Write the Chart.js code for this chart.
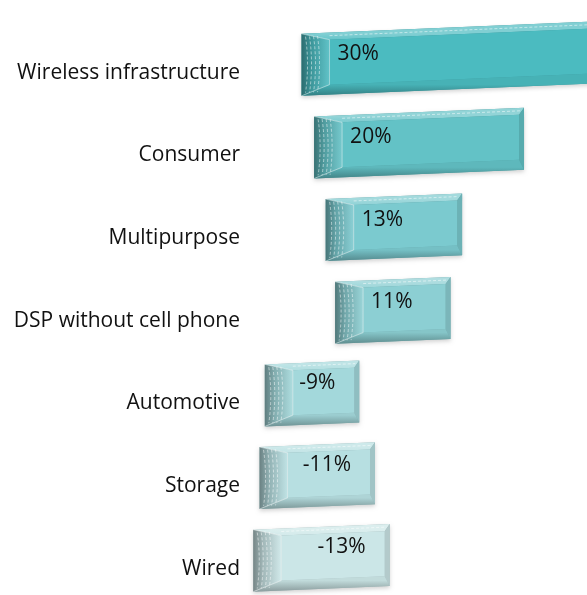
<!DOCTYPE html>
<html>
<head>
<meta charset="utf-8">
<script src="https://cdn.jsdelivr.net/npm/chart.js@4.4.0/dist/chart.umd.min.js"></script>
<style>
    html, body { margin: 0; padding: 0; background: #ffffff; overflow: hidden; }
    #wrap { width: 587px; height: 595px; position: relative; overflow: hidden; }
    #segmentChart { display: block; }
</style>
</head>
<body>
<div id="wrap"><canvas id="segmentChart" width="587" height="602"></canvas></div>
<script>
// Chart data
const categories = [
    'Wireless infrastructure',
    'Consumer',
    'Multipurpose',
    'DSP without cell phone',
    'Automotive',
    'Storage',
    'Wired'
];
const growth = [30, 20, 13, 11, -9, -11, -13];

// Perspective indent of each 3D block (axis units), and face colours
const depthShift = [5.1, 6.3, 7.4, 8.3, 1.6, 1.1, 0.5];
const faceColors = ['#4bbbc0', '#63c2c6', '#7bcacf', '#8ccfd3', '#a3d8db', '#b7dfe1', '#cbe6e7'];

const SLOPE = -0.042;
const FONT = "'Open Sans', 'Noto Sans', sans-serif";

// Mix a hex colour with white (t > 0) or black (t < 0)
function shade(hex, t) {
    const n = parseInt(hex.slice(1), 16);
    let r = (n >> 16) & 255, g = (n >> 8) & 255, b = n & 255;
    const target = t > 0 ? 255 : 0;
    const k = Math.abs(t);
    r = Math.round(r + (target - r) * k);
    g = Math.round(g + (target - g) * k);
    b = Math.round(b + (target - b) * k);
    return `rgb(${r},${g},${b})`;
}

function poly(ctx, pts, fill) {
    ctx.beginPath();
    ctx.moveTo(pts[0][0], pts[0][1]);
    for (let i = 1; i < pts.length; i++) ctx.lineTo(pts[i][0], pts[i][1]);
    ctx.closePath();
    ctx.fillStyle = fill;
    ctx.fill();
}

// Draw one bevelled, slightly tilted block
function drawBlock(ctx, x0, x1, yc, h, color) {
    const P = (x, y) => [x, y + SLOPE * (x - x0)];
    const bl = 28, bt = 7, br = 5, bb = 10;
    const top = yc - h / 2, bot = yc + h / 2;

    const TL = P(x0, top), TR = P(x1, top), BR = P(x1, bot), BL = P(x0, bot);
    const iTL = P(x0 + bl, top + bt), iTR = P(x1 - br, top + bt);
    const iBR = P(x1 - br, bot - bb), iBL = P(x0 + bl, bot - bb);

    // soft shadow
    ctx.save();
    ctx.shadowColor = 'rgba(0,0,0,0.18)';
    ctx.shadowBlur = 4;
    ctx.shadowOffsetY = 2;
    poly(ctx, [TL, TR, BR, BL], shade(color, -0.2));
    ctx.restore();

    let g = ctx.createLinearGradient(0, top, 0, top + bt);
    g.addColorStop(0, shade(color, 0.3));
    g.addColorStop(1, shade(color, 0.12));
    poly(ctx, [TL, TR, iTR, iTL], g);
    poly(ctx, [TR, BR, iBR, iTR], shade(color, -0.12));

    g = ctx.createLinearGradient(0, iBL[1], 0, BL[1]);
    g.addColorStop(0, shade(color, -0.05));
    g.addColorStop(1, shade(color, -0.32));
    poly(ctx, [iBL, iBR, BR, BL], g);

    g = ctx.createLinearGradient(x0, 0, x0 + bl, 0);
    g.addColorStop(0, shade(color, -0.42));
    g.addColorStop(0.35, shade(color, -0.2));
    g.addColorStop(1, shade(color, 0.12));
    poly(ctx, [TL, iTL, iBL, BL], g);

    poly(ctx, [iTL, iTR, iBR, iBL], color);

    // curved dashed highlight lines on the left bevel
    ctx.save();
    ctx.strokeStyle = 'rgba(255,255,255,0.5)';
    ctx.lineWidth = 1;
    ctx.setLineDash([3, 2]);
    [4, 8, 12, 16].forEach(dx => {
        const a = P(x0 + dx, top + 3), m = P(x0 + dx + 4, yc), b = P(x0 + dx, bot - 3);
        ctx.beginPath();
        ctx.moveTo(a[0], a[1]);
        ctx.quadraticCurveTo(m[0], m[1], b[0], b[1]);
        ctx.stroke();
    });
    const a = P(x0 + bl, top + 3), b = P(x1 - 4, top + 3);
    ctx.beginPath();
    ctx.moveTo(a[0], a[1]);
    ctx.lineTo(b[0], b[1]);
    ctx.stroke();
    ctx.restore();

    // thin light bevel edges
    ctx.save();
    ctx.strokeStyle = 'rgba(255,255,255,0.45)';
    ctx.lineWidth = 1;
    ctx.beginPath();
    ctx.moveTo(TL[0], TL[1]); ctx.lineTo(iTL[0], iTL[1]);
    ctx.moveTo(BL[0], BL[1]); ctx.lineTo(iBL[0], iBL[1]);
    ctx.moveTo(iTL[0], iTL[1]); ctx.lineTo(iBL[0], iBL[1]);
    ctx.stroke();
    ctx.restore();
}

const blockPlugin = {
    id: 'blocks',
    afterDatasetsDraw(chart) {
        const ctx = chart.ctx;
        const meta = chart.getDatasetMeta(0);
        meta.data.forEach((bar, i) => {
            const x0 = Math.min(bar.base, bar.x);
            const x1 = Math.max(bar.base, bar.x);
            const yc = bar.y;
            drawBlock(ctx, x0, x1, yc, bar.height, faceColors[i]);

            // value label
            const v = growth[i];
            ctx.save();
            ctx.font = `21px ${FONT}`;
            ctx.fillStyle = '#111';
            ctx.textBaseline = 'middle';
            let tx;
            if (v >= 0) {
                ctx.textAlign = 'left';
                tx = x0 + 36;
            } else {
                ctx.textAlign = 'right';
                tx = x1 - 24;
            }
            const ty = yc - 9 + SLOPE * (tx - x0);
            ctx.fillText(v + '%', tx, ty);
            ctx.restore();
        });
    }
};

const ctx = document.getElementById('segmentChart').getContext('2d');
new Chart(ctx, {
    type: 'bar',
    data: {
        labels: categories,
        datasets: [{
            data: growth.map((v, i) => [depthShift[i], depthShift[i] + Math.abs(v)]),
            backgroundColor: 'rgba(0,0,0,0)',
            borderWidth: 0,
            barPercentage: 0.75,
            categoryPercentage: 1,
            clip: false
        }]
    },
    options: {
        indexAxis: 'y',
        responsive: false,
        animation: false,
        layout: { padding: { top: 23.5, bottom: 0, left: 0, right: 0 } },
        plugins: {
            legend: { display: false },
            tooltip: { enabled: false }
        },
        scales: {
            x: {
                display: false,
                min: 0,
                max: 32.3
            },
            y: {
                grid: { display: false, drawBorder: false },
                border: { display: false },
                afterFit(scale) {
                    scale.width = 248;
                    scale.paddingTop = 0;
                    scale.paddingBottom = 0;
                },
                ticks: {
                    color: '#111',
                    padding: 0,
                    labelOffset: 8,
                    font: { family: FONT, size: 21 }
                }
            }
        }
    },
    plugins: [blockPlugin]
});
</script>
</body>
</html>
